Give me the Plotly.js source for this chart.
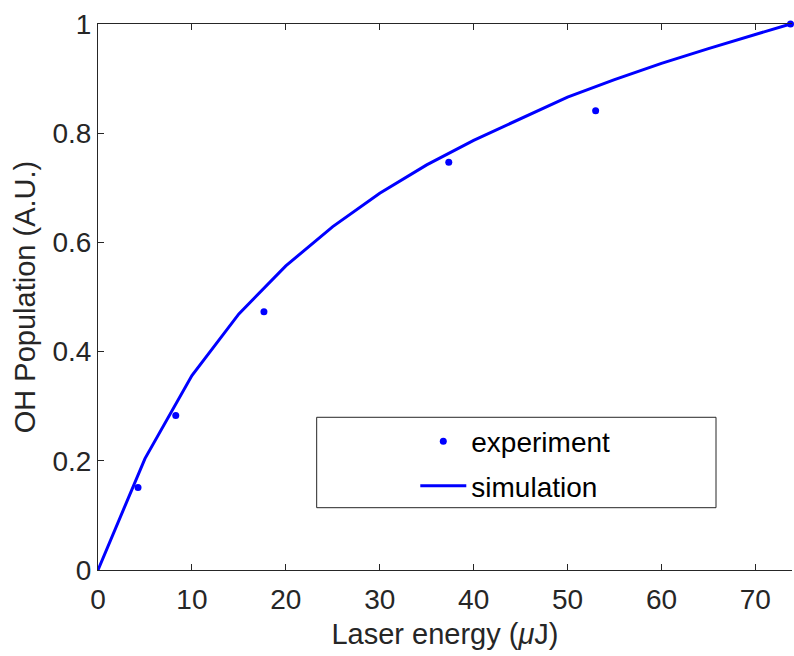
<!DOCTYPE html>
<html>
<head>
<meta charset="utf-8">
<script src="https://cdn.plot.ly/plotly-3.0.1.min.js"></script>
<style>html,body{margin:0;padding:0;background:#fff;}#chart{width:794px;height:656px;}</style>
</head>
<body>
<div id="chart"></div>
<script>
// Experimental points
var expEnergy = [4.26, 8.28, 17.67, 37.35, 52.99, 73.74];
var expPop = [0.151, 0.283, 0.473, 0.747, 0.841, 1.0];
// Simulation curve
var simEnergy = [0, 5, 10, 15, 20, 25, 30, 35, 40, 45, 50, 55, 60, 65, 70, 73.74];
var simPop = [0, 0.204, 0.356, 0.469, 0.557, 0.629, 0.690, 0.742, 0.787, 0.827, 0.866, 0.898, 0.928, 0.955, 0.980, 1.0];
var xTicks = [0, 10, 20, 30, 40, 50, 60, 70];
var yTicks = [0, 0.2, 0.4, 0.6, 0.8, 1];
var yTickText = ['0', '0.2', '0.4', '0.6', '0.8', '1'];

var font = 'Liberation Sans, Arial, Helvetica, sans-serif';
var axisColor = '#262626';

var traces = [
  {x: expEnergy, y: expPop, type: 'scatter', mode: 'markers', name: 'experiment',
   legendgroup: 'a', marker: {color: '#0000ff', size: 7}, cliponaxis: false},
  {x: simEnergy, y: simPop, type: 'scatter', mode: 'lines', name: 'simulation',
   legendgroup: 'b', line: {color: '#0000ff', width: 3}, cliponaxis: false}
];

var layout = {
  width: 794, height: 656,
  margin: {l: 98, r: 2, t: 24, b: 86},
  paper_bgcolor: '#fff', plot_bgcolor: '#fff',
  font: {family: font, color: axisColor},
  showlegend: true,
  legend: {x: 0.4572, y: 0.281, xanchor: 'left', yanchor: 'top',
           bgcolor: 'rgba(0,0,0,0)', borderwidth: 0,
           font: {family: font, size: 28, color: '#000'},
           itemwidth: 46, tracegroupgap: 5, traceorder: 'grouped'},
  xaxis: {range: [0, 73.9], tickvals: xTicks, ticks: 'inside', ticklen: 6, tickcolor: axisColor,
          showline: true, linecolor: axisColor, linewidth: 1, mirror: 'ticks',
          showgrid: false, zeroline: false, ticklabelstandoff: 4,
          tickfont: {family: font, size: 28, color: axisColor},
          title: {text: 'Laser energy (<i>μ</i>J)', font: {family: font, size: 29, color: axisColor}, standoff: 10}},
  yaxis: {range: [0, 1], tickvals: yTicks, ticktext: yTickText, ticks: 'inside', ticklen: 6, tickcolor: axisColor,
          showline: true, linecolor: axisColor, linewidth: 1, mirror: false,
          showgrid: false, zeroline: false,
          tickfont: {family: font, size: 28, color: axisColor},
          title: {text: 'OH Population (A.U.)', font: {family: font, size: 29, color: axisColor}, standoff: 8}},
  shapes: [
    {type: 'rect', xref: 'paper', yref: 'paper', x0: 0.3151, x1: 0.8905, y0: 0.1141, y1: 0.2797,
     line: {color: axisColor, width: 1}, fillcolor: '#fff', layer: 'below'}
  ]
};

Plotly.newPlot('chart', traces, layout, {displayModeBar: false, staticPlot: true});
</script>
</body>
</html>
